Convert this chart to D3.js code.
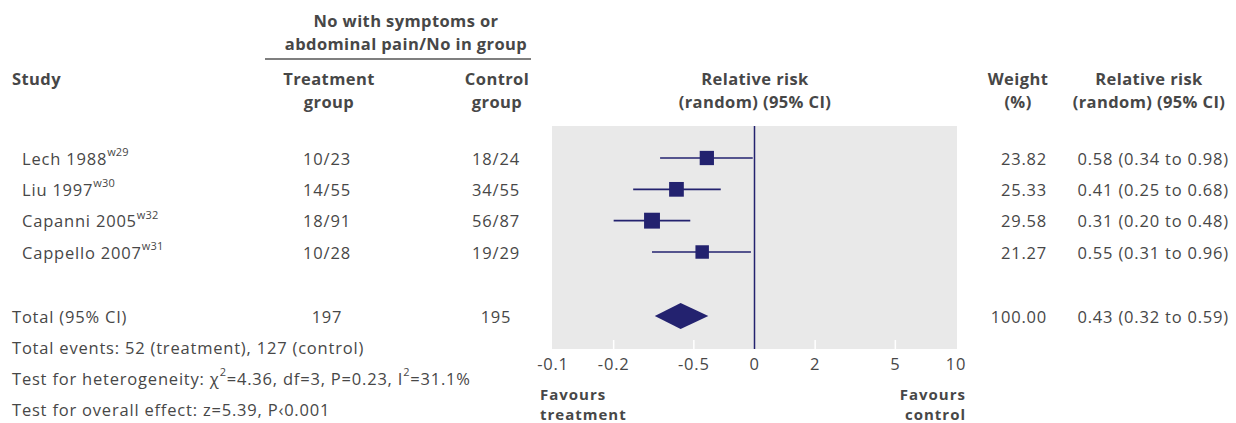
<!DOCTYPE html>
<html><head><meta charset="utf-8">
<script src="https://cdn.jsdelivr.net/npm/d3@7"></script>
<style>
html,body{margin:0;padding:0;background:#fff;}
svg text{font-family:"Open Sans","Noto Sans",sans-serif;fill:#474747;}
</style></head>
<body><svg id="c" width="1236" height="423"></svg>
<script>
const studies = ["Lech 1988", "Liu 1997", "Capanni 2005", "Cappello 2007"];
const refs = ["w29", "w30", "w32", "w31"];
const treatment = ["10/23", "14/55", "18/91", "10/28"];
const control = ["18/24", "34/55", "56/87", "19/29"];
const weights = [23.82, 25.33, 29.58, 21.27];
const rr = [0.58, 0.41, 0.31, 0.55];
const lower = [0.34, 0.25, 0.20, 0.31];
const upper = [0.98, 0.68, 0.48, 0.96];
const totalTreatment = "197";
const totalControl = "195";
const totalWeight = 100.00;
const totalRR = 0.43, totalLower = 0.32, totalUpper = 0.59;
const tickValues = [0.1, 0.2, 0.5, 1, 2, 5, 10];
const tickLabels = ["-0.1", "-0.2", "-0.5", "0", "2", "5", "10"];
const footnotes = [
  "Total events: 52 (treatment), 127 (control)",
  "Test for heterogeneity: χ²=4.36, df=3, P=0.23, I²=31.1%",
  "Test for overall effect: z=5.39, P‹0.001"
];

const svg = d3.select("#c");
const navy = "#23226f";
const fs = 16.5;

const x = d3.scaleLog().domain([0.1, 10]).range([553, 956]);
const rowY = d3.scalePoint().domain(d3.range(studies.length)).range([158, 252]);
const totalY = 316;
const panelTop = 126, panelBot = 349;
const sz = d3.scaleSqrt().domain([0, 30]).range([0, 16]);

function txt(xp, yp, s, opts = {}) {
  const t = svg.append("text").attr("x", xp).attr("y", yp)
    .attr("dominant-baseline", "central")
    .attr("text-anchor", opts.anchor || "start")
    .style("font-size", (opts.size || fs) + "px")
    .style("font-weight", opts.bold ? "700" : "400")
    .style("letter-spacing", (opts.ls !== undefined ? opts.ls : (opts.bold ? 0.4 : 0.8)) + "px")
    .text(s);
  return t;
}
function txt2(xp, yp, lines, dy, opts = {}) {
  const t = svg.append("text").attr("y", yp)
    .attr("text-anchor", opts.anchor || "start")
    .style("font-size", (opts.size || fs) + "px")
    .style("font-weight", opts.bold ? "700" : "400")
    .style("letter-spacing", (opts.ls !== undefined ? opts.ls : (opts.bold ? 0.4 : 0.8)) + "px");
  lines.forEach((l, i) => t.append("tspan").attr("x", xp).attr("y", yp + i * dy)
    .attr("dominant-baseline", "central").text(l));
  return t;
}

// headers
txt2(406, 20, ["No with symptoms or", "abdominal pain/No in group"], 23, {anchor: "middle", bold: true});
svg.append("line").attr("x1", 265).attr("x2", 531).attr("y1", 59).attr("y2", 59)
  .attr("stroke", "#555").attr("stroke-width", 1.3);
txt(12, 78, "Study", {bold: true});
txt2(329, 78, ["Treatment", "group"], 23, {anchor: "middle", bold: true});
txt2(497, 78, ["Control", "group"], 23, {anchor: "middle", bold: true});
txt2(755, 78, ["Relative risk", "(random) (95% CI)"], 23, {anchor: "middle", bold: true});
txt2(1018, 78, ["Weight", "(%)"], 23, {anchor: "middle", bold: true});
txt2(1149, 78, ["Relative risk", "(random) (95% CI)"], 23, {anchor: "middle", bold: true});

// panel
svg.append("rect").attr("x", x(0.1) - 1).attr("y", panelTop)
  .attr("width", x(10) - x(0.1) + 2).attr("height", panelBot - panelTop)
  .attr("fill", "#e9e9e9");
// white ticks inside panel bottom
svg.selectAll("line.tk").data(tickValues.filter(v => v !== 1 && v !== 0.1 && v !== 10)).join("line")
  .attr("class", "tk").attr("x1", d => x(d)).attr("x2", d => x(d))
  .attr("y1", panelBot - 9).attr("y2", panelBot).attr("stroke", "#fff").attr("stroke-width", 1.5);
// reference line
svg.append("line").attr("x1", x(1)).attr("x2", x(1)).attr("y1", panelTop).attr("y2", panelBot)
  .attr("stroke", navy).attr("stroke-width", 1.5);

// tick labels
tickValues.forEach((v, i) => txt(x(v), 363, tickLabels[i], {anchor: "middle"}));
txt2(540, 394, ["Favours", "treatment"], 20, {bold: true, ls: 1, size: 15});
txt2(966, 394, ["Favours", "control"], 20, {anchor: "end", bold: true, ls: 1, size: 15});

// study rows
studies.forEach((s, i) => {
  const y = rowY(i);
  const t = txt(22, y, s);
  t.append("tspan").attr("dy", -7).style("font-size", "11px").style("letter-spacing", "0.2px").text(refs[i]);
  txt(327, y, treatment[i], {anchor: "middle"});
  txt(496, y, control[i], {anchor: "middle"});
  txt(1047, y, weights[i].toFixed(2), {anchor: "end"});
  txt(1229, y, `${rr[i].toFixed(2)} (${lower[i].toFixed(2)} to ${upper[i].toFixed(2)})`, {anchor: "end"});
  svg.append("line").attr("x1", x(lower[i])).attr("x2", x(upper[i]))
    .attr("y1", y).attr("y2", y).attr("stroke", navy).attr("stroke-width", 1.6);
  const s2 = sz(weights[i]);
  svg.append("rect").attr("x", x(rr[i]) - s2 / 2).attr("y", y - s2 / 2)
    .attr("width", s2).attr("height", s2).attr("fill", navy);
});

// total
txt(12, totalY, "Total (95% CI)");
txt(327, totalY, totalTreatment, {anchor: "middle"});
txt(496, totalY, totalControl, {anchor: "middle"});
txt(1047, totalY, totalWeight.toFixed(2), {anchor: "end"});
txt(1229, totalY, `${totalRR.toFixed(2)} (${totalLower.toFixed(2)} to ${totalUpper.toFixed(2)})`, {anchor: "end"});
svg.append("path").attr("fill", navy).attr("d", d3.line()([
  [x(totalLower), totalY], [x(totalRR), totalY - 13], [x(totalUpper), totalY], [x(totalRR), totalY + 13]
]) + "Z");

// footnotes
footnotes.forEach((f, i) => {
  const t = svg.append("text").attr("x", 12).attr("y", 347 + i * 31)
    .attr("dominant-baseline", "central").style("font-size", fs + "px")
    .style("letter-spacing", "0.8px");
  if (f.includes("χ²")) {
    t.append("tspan").text("Test for heterogeneity: χ");
    t.append("tspan").attr("dy", -7).style("font-size", "11px").text("2");
    t.append("tspan").attr("dy", 7).text("=4.36, df=3, P=0.23, I");
    t.append("tspan").attr("dy", -7).style("font-size", "11px").text("2");
    t.append("tspan").attr("dy", 7).text("=31.1%");
  } else {
    t.text(f);
  }
});
</script></body></html>
